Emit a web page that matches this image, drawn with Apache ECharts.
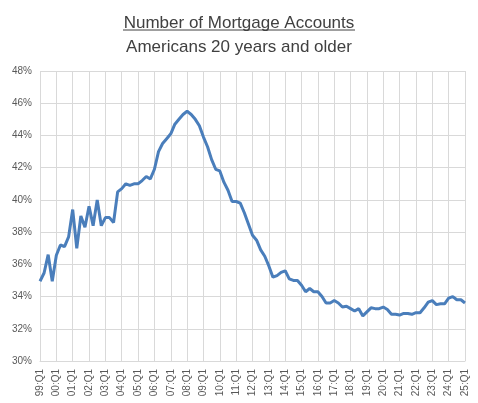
<!DOCTYPE html>
<html><head><meta charset="utf-8">
<script src="https://cdn.jsdelivr.net/npm/echarts@6/dist/echarts.min.js"></script>
<style>html,body{margin:0;padding:0;background:#fff}#c{width:478px;height:403px}</style>
</head><body><div id="c"></div>
<script>
const years = ['99','00','01','02','03','04','05','06','07','08','09','10','11','12','13','14','15','16','17','18','19','20','21','22','23','24','25'];
const quarters = ['Q1','Q2','Q3','Q4'];
const categories = [];
years.forEach((y, i) => quarters.forEach((q, j) => { if (i < years.length - 1 || j === 0) categories.push(y + ':' + q); }));
const values = [34.95,35.46,36.6,34.95,36.56,37.2,37.1,37.7,39.4,37.0,39.0,38.3,39.6,38.4,40.0,38.4,
38.9,38.9,38.6,40.5,40.7,41.0,40.9,41.0,41.0,41.2,41.45,41.3,41.9,43.0,43.5,43.8,
44.1,44.7,45.0,45.3,45.5,45.3,45.0,44.6,43.9,43.3,42.5,41.9,41.8,41.1,40.6,39.9,
39.9,39.8,39.2,38.5,37.8,37.5,36.9,36.5,35.9,35.2,35.3,35.5,35.6,35.1,35.0,35.0,
34.7,34.3,34.5,34.3,34.3,34.0,33.6,33.6,33.75,33.6,33.35,33.4,33.25,33.1,33.25,32.8,
33.05,33.3,33.25,33.25,33.35,33.2,32.9,32.9,32.85,32.95,32.95,32.9,33.0,33.0,33.3,33.65,
33.75,33.5,33.55,33.55,33.9,34.0,33.8,33.8,33.6];
const titleText = 'Number of Mortgage Accounts';
const subtitleText = 'Americans 20 years and older';
const chart = echarts.init(document.getElementById('c'));
chart.setOption({
  animation: false,
  title: [
    {text: titleText, left: 'center', top: 10, textStyle: {fontFamily: 'Liberation Sans', fontSize: 17, fontWeight: 'normal', color: '#404040'}},
    {text: subtitleText, left: 'center', top: 34, textStyle: {fontFamily: 'Liberation Sans', fontSize: 17, fontWeight: 'normal', color: '#404040'}}
  ],
  graphic: [{type: 'line', shape: {x1: 123, y1: 30, x2: 355, y2: 30}, style: {stroke: '#404040', lineWidth: 1}}],
  grid: {left: 40, right: 13, top: 71, bottom: 42},
  xAxis: {
    type: 'category', data: categories, boundaryGap: false,
    axisLine: {lineStyle: {color: '#d9d9d9'}}, axisTick: {show: false},
    axisLabel: {interval: 3, rotate: 90, color: '#595959', fontSize: 10, fontFamily: 'Liberation Sans'},
    splitLine: {show: true, interval: 3, lineStyle: {color: '#d9d9d9'}}
  },
  yAxis: {
    type: 'value', min: 30, max: 48, interval: 2,
    axisLabel: {formatter: '{value}%', color: '#595959', fontSize: 10, fontFamily: 'Liberation Sans'},
    axisLine: {show: false}, axisTick: {show: false},
    splitLine: {lineStyle: {color: '#d9d9d9'}}
  },
  series: [{type: 'line', data: values, showSymbol: false, lineStyle: {color: '#4a7ebb', width: 3}}]
});
</script></body></html>
